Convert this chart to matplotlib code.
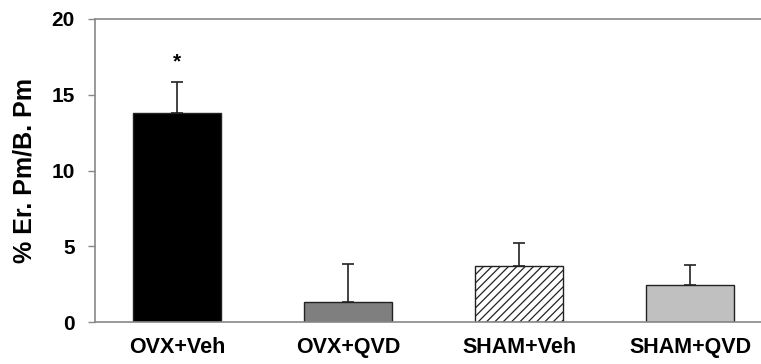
import numpy as np
import matplotlib
matplotlib.use("Agg")
import matplotlib.pyplot as plt

plt.rcParams['font.family'] = ['Liberation Sans', 'DejaVu Sans']
plt.rcParams['hatch.color'] = '#444444'
plt.rcParams['hatch.linewidth'] = 0.9

# data
groups = ['OVX+Veh', 'OVX+QVD', 'SHAM+Veh', 'SHAM+QVD']
means = [13.8, 1.3, 3.7, 2.45]
errors = [2.05, 2.55, 1.5, 1.3]
bar_colors = ['#000000', '#7f7f7f', '#ffffff', '#c0c0c0']
bar_hatches = ['', '', '////', '']
star_y = 17.2

fig = plt.figure(figsize=(7.61, 3.64), dpi=100)
ax = fig.add_axes([95 / 761, 42 / 364, 1 - 95 / 761, 303 / 364])

x = np.arange(len(groups))
for i in range(len(groups)):
    ax.bar(x[i], means[i], width=0.51, color=bar_colors[i], hatch=bar_hatches[i],
           edgecolor='#222222', linewidth=1.0, zorder=2)
ax.errorbar(x, means, yerr=[np.zeros(len(means)), errors], fmt='none',
            ecolor='#222222', elinewidth=1.2, capsize=4, capthick=1.2, zorder=1)

ax.text(x[0], star_y, '*', ha='center', va='center', fontsize=15, fontweight='bold')

ax.set_xlim(-0.48, 3.415)
ax.set_ylim(0, 20)
ax.set_yticks([0, 5, 10, 15, 20])
ax.set_xticks(x)
ax.set_xticklabels(groups, fontsize=15.5, fontweight='bold')
ax.tick_params(axis='x', length=0, pad=11)
ax.tick_params(axis='y', labelsize=15, length=5, width=1, color='#888888', pad=9.5)
for lbl in ax.get_yticklabels():
    lbl.set_fontweight('bold')
ax.set_ylabel('% Er. Pm/B. Pm', fontsize=18, fontweight='bold')
ax.yaxis.set_label_coords(-58 / 666, 0.5)

for s in ['left', 'bottom', 'top']:
    ax.spines[s].set_color('#888888')
    ax.spines[s].set_linewidth(1.2)
ax.spines['right'].set_visible(False)

fig.savefig('out.png', dpi=100)
